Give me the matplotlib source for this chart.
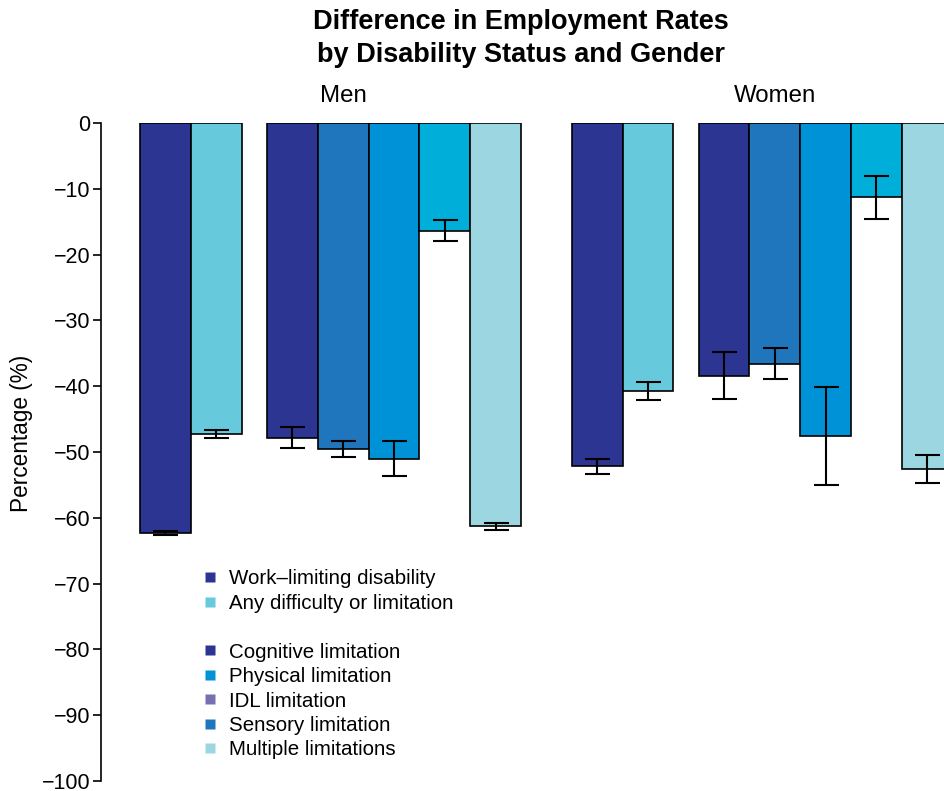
"""
Difference in employment rates by disability status and gender
"""

import matplotlib.pyplot as plt
from matplotlib.lines import Line2D
import numpy as np

plt.rcParams['font.family'] = ['Liberation Sans', 'DejaVu Sans']

# Data
groups = ['Men', 'Women']
overall_labels = ['Work\u2013limiting disability', 'Any difficulty or limitation']
limit_labels = ['Cognitive limitation', 'Sensory limitation', 'Physical limitation',
                'IDL limitation', 'Multiple limitations']

men_overall = [-62.3, -47.3]
men_overall_err = [0.3, 0.6]
men_limits = [-47.8, -49.5, -51.0, -16.4, -61.3]
men_limits_err = [1.6, 1.2, 2.7, 1.6, 0.5]

women_overall = [-52.2, -40.7]
women_overall_err = [1.15, 1.35]
women_limits = [-38.4, -36.6, -47.5, -11.3, -52.6]
women_limits_err = [3.55, 2.35, 7.45, 3.3, 2.15]

# Colours
c_navy = '#2c3592'
c_any = '#66cadc'
c_sensory = '#1f76bc'
c_physical = '#0092d6'
c_idl_bar = '#00aeda'
c_idl_legend = '#7670b3'
c_multiple = '#9cd6e1'

overall_colors = [c_navy, c_any]
limit_colors = [c_navy, c_sensory, c_physical, c_idl_bar, c_multiple]


def group_positions(start):
    """Bar centres for one gender: 2 overall bars, half gap, 5 limitation bars"""
    overall = start + np.arange(2) + 0.5
    limits = start + 2.5 + np.arange(5) + 0.5
    return overall, limits


fig = plt.figure(figsize=(9.45, 7.91), dpi=100)
ax = fig.add_axes([101 / 945, 10 / 791, 844 / 945, 658 / 791])

data = [(men_overall, men_overall_err, men_limits, men_limits_err),
        (women_overall, women_overall_err, women_limits, women_limits_err)]
label_x = [4.0, 12.5]

for i, (ov, ov_err, lim, lim_err) in enumerate(data):
    x_ov, x_lim = group_positions(i * 8.5)
    err_kw = dict(ecolor='black', elinewidth=1.5, capsize=9, capthick=1.5)
    ax.bar(x_ov, ov, width=1.0, color=overall_colors, edgecolor='black',
           linewidth=1.2, yerr=ov_err, error_kw=err_kw, zorder=2)
    ax.bar(x_lim, lim, width=1.0, color=limit_colors, edgecolor='black',
           linewidth=1.2, yerr=lim_err, error_kw=err_kw, zorder=2)
    ax.text(label_x[i], 2.4, groups[i], ha='center', va='bottom', fontsize=17.3)

ax.set_xlim(-0.77, 15.85)
ax.set_ylim(-100, 0)
ax.set_yticks(np.arange(-100, 1, 10))
ax.tick_params(axis='y', length=6, width=1.2, pad=1.5, labelsize=15.5)
ax.set_xticks([])
for side in ['top', 'right', 'bottom']:
    ax.spines[side].set_visible(False)
ax.spines['left'].set_bounds(-100, 0)
ax.spines['left'].set_linewidth(1.2)
ax.set_ylabel('Percentage (%)', fontsize=16.3)
ax.yaxis.set_label_coords(-0.08, 0.529)

fig.text(521 / 945, 1 - 38.5 / 791,
         'Difference in Employment Rates\nby Disability Status and Gender',
         ha='center', va='center', fontsize=19.5, fontweight='bold',
         linespacing=1.32)

# Legend with a blank row between the two blocks
leg_labels = overall_labels + [''] + ['Cognitive limitation', 'Physical limitation',
                                      'IDL limitation', 'Sensory limitation',
                                      'Multiple limitations']
leg_colors = [c_navy, c_any, 'none', c_navy, c_physical, c_idl_legend,
              c_sensory, c_multiple]
handles = [Line2D([], [], marker='s', linestyle='none', markersize=7.5,
                  markerfacecolor=c, markeredgecolor='none') for c in leg_colors]
ax.legend(handles, leg_labels, loc='upper left', frameon=False, fontsize=14.8,
          bbox_to_anchor=(189 / 945, 1 - 559 / 791), bbox_transform=fig.transFigure,
          handlelength=1.0, handletextpad=0.45, labelspacing=0.265, borderpad=0)

fig.savefig('out.png', dpi=100)
